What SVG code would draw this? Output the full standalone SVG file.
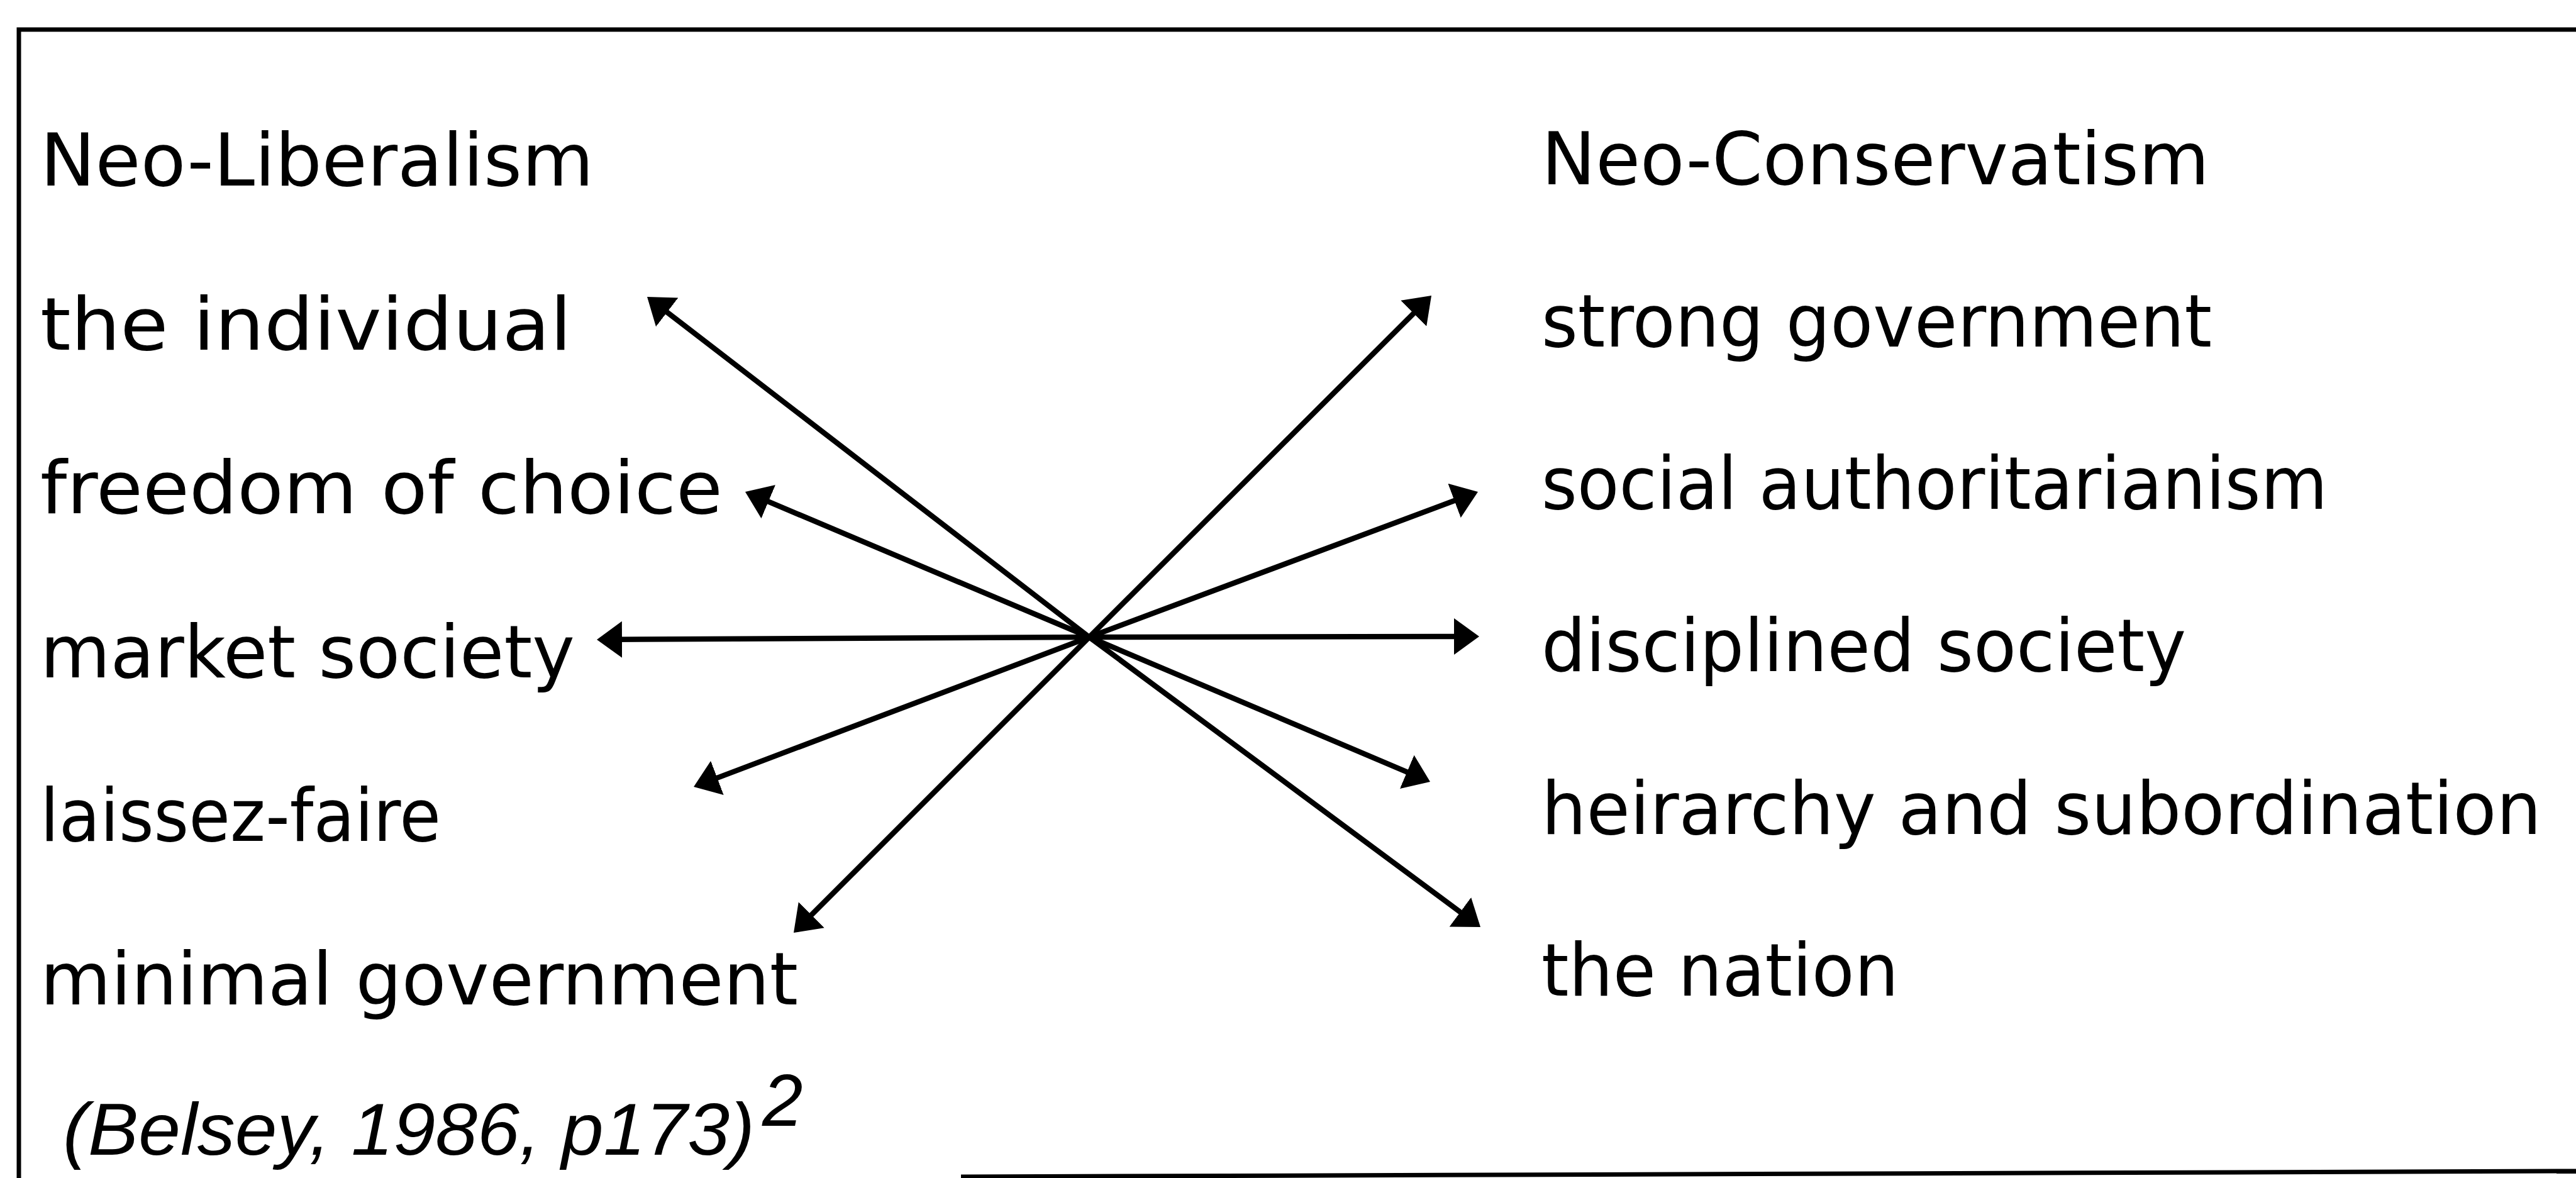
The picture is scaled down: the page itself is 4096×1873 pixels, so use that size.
<svg xmlns="http://www.w3.org/2000/svg" width="4096" height="1873" viewBox="0 0 4096 1873">
  <defs>
    <style>
      .lbl { font-family: "DejaVu Sans", "Liberation Sans", sans-serif; font-size: 116px; fill: #000; }
      .cite { font-family: "Liberation Sans", "DejaVu Sans", sans-serif; font-style: italic; font-size: 116px; fill: #000; }
      .frame { fill: none; stroke: #000; stroke-width: 7; }
      .conn line { stroke: #000; stroke-width: 8.5; }
    </style>
    <marker id="head" markerUnits="userSpaceOnUse" viewBox="0 0 40 58" markerWidth="40" markerHeight="58" refX="10" refY="29" orient="auto">
      <path d="M0,0 L40,29 L0,58 Z" fill="#000"/>
    </marker>
  </defs>

  <rect width="4096" height="1873" fill="#fff"/>

  <!-- open frame: left and top edges, tilted bottom edge -->
  <g id="frame">
    <path class="frame" d="M4096,47 L30,47 L30,1873"/>
    <path class="frame" d="M1528,1871 L4096,1862"/>
  </g>

  <!-- left column -->
  <g id="neo-liberalism"><text class="lbl" x="64" y="295" textLength="880" lengthAdjust="spacingAndGlyphs">Neo-Liberalism</text></g>
  <g id="the-individual"><text class="lbl" x="64" y="556" textLength="845" lengthAdjust="spacingAndGlyphs">the individual</text></g>
  <g id="freedom-of-choice"><text class="lbl" x="64" y="816" textLength="1085" lengthAdjust="spacingAndGlyphs">freedom of choice</text></g>
  <g id="market-society"><text class="lbl" x="64" y="1077" textLength="850" lengthAdjust="spacingAndGlyphs">market society</text></g>
  <g id="laissez-faire"><text class="lbl" x="64" y="1337" textLength="637" lengthAdjust="spacingAndGlyphs">laissez-faire</text></g>
  <g id="minimal-government"><text class="lbl" x="64" y="1597" textLength="1205" lengthAdjust="spacingAndGlyphs">minimal government</text></g>

  <!-- right column -->
  <g id="neo-conservatism"><text class="lbl" x="2451" y="293" textLength="1062" lengthAdjust="spacingAndGlyphs">Neo-Conservatism</text></g>
  <g id="strong-government"><text class="lbl" x="2451" y="551" textLength="1066" lengthAdjust="spacingAndGlyphs">strong government</text></g>
  <g id="social-authoritarianism"><text class="lbl" x="2451" y="809" textLength="1250" lengthAdjust="spacingAndGlyphs">social authoritarianism</text></g>
  <g id="disciplined-society"><text class="lbl" x="2451" y="1067" textLength="1025" lengthAdjust="spacingAndGlyphs">disciplined society</text></g>
  <g id="heirarchy"><text class="lbl" x="2451" y="1326" textLength="1590" lengthAdjust="spacingAndGlyphs">heirarchy and subordination</text></g>
  <g id="the-nation"><text class="lbl" x="2451" y="1583" textLength="568" lengthAdjust="spacingAndGlyphs">the nation</text></g>

  <!-- source note -->
  <g id="citation">
    <text class="cite" x="100" y="1836" textLength="1100" lengthAdjust="spacingAndGlyphs">(Belsey, 1986, p173)</text>
    <text class="cite" x="1212" y="1790" font-size="72">2</text>
  </g>

  <!-- arrows radiating from the central crossing point -->
  <g id="connectors" class="conn">
    <line x1="1732" y1="1013" x2="1052.8" y2="490.3" marker-end="url(#head)"/>
    <line x1="1732" y1="1013" x2="1212.6" y2="793.7" marker-end="url(#head)"/>
    <line x1="1732" y1="1013" x2="979" y2="1016.8" marker-end="url(#head)"/>
    <line x1="1732" y1="1013" x2="1131.1" y2="1240.4" marker-end="url(#head)"/>
    <line x1="1732" y1="1013" x2="1283.2" y2="1461.8" marker-end="url(#head)"/>
    <line x1="1732" y1="1013" x2="2254.8" y2="491.2" marker-end="url(#head)"/>
    <line x1="1732" y1="1013" x2="2321.9" y2="792.5" marker-end="url(#head)"/>
    <line x1="1732" y1="1013" x2="2322" y2="1012" marker-end="url(#head)"/>
    <line x1="1732" y1="1013" x2="2246.4" y2="1231.3" marker-end="url(#head)"/>
    <line x1="1732" y1="1013" x2="2329.9" y2="1456.1" marker-end="url(#head)"/>
  </g>
</svg>
